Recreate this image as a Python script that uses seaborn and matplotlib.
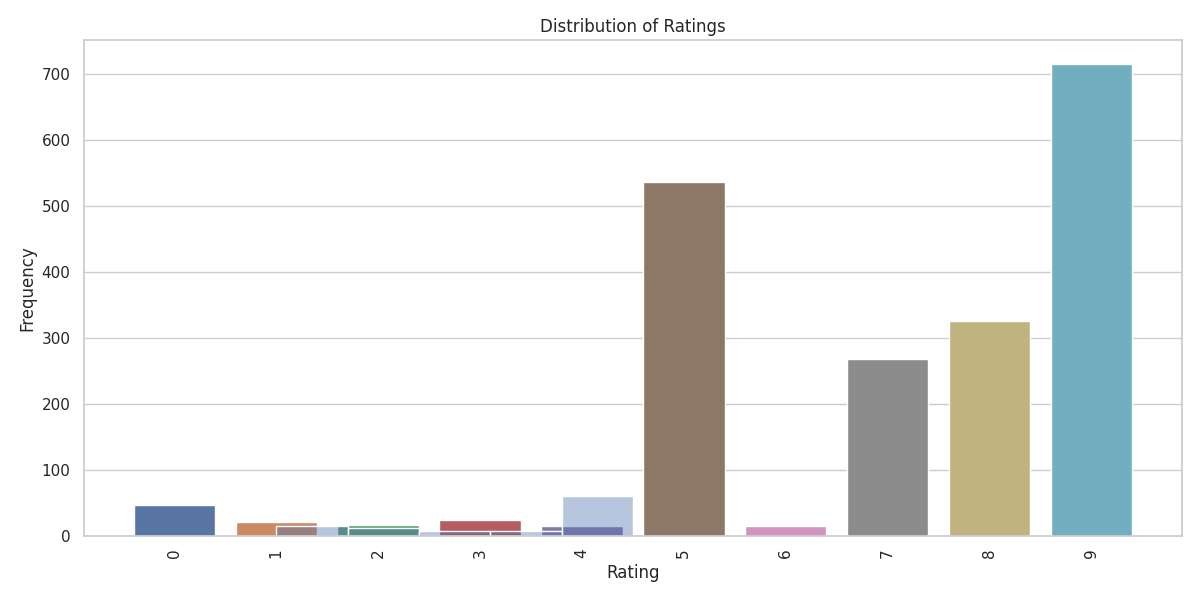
import numpy as np
import pandas as pd
import matplotlib
matplotlib.use("Agg")
import matplotlib.pyplot as plt
import seaborn as sns

# counts per rating
ratings = [0, 1, 2, 3, 4, 5, 6, 7, 8, 9]
rating_counts = [47, 21, 16, 24, 14, 536, 14, 268, 325, 716]

# overlaid histogram: bin edges and counts
hist_edges = [1.0, 1.7, 2.4, 3.1, 3.8, 4.5]
hist_counts = [15, 12, 7, 7, 60]

sns.set(style="whitegrid")

df = pd.DataFrame({"Rating": ratings, "Frequency": rating_counts})
hist_centers = [(a + b) / 2 for a, b in zip(hist_edges[:-1], hist_edges[1:])]

fig, ax = plt.subplots(figsize=(12, 6))
sns.barplot(
    data=df,
    x="Rating",
    y="Frequency",
    hue="Rating",
    palette="deep",
    legend=False,
    ax=ax
)
sns.histplot(
    x=hist_centers,
    weights=hist_counts,
    bins=hist_edges,
    color="#4c72b0",
    alpha=0.4,
    ax=ax
)
ax.set_title("Distribution of Ratings")
ax.set_xlabel("Rating")
ax.set_ylabel("Frequency")
plt.xticks(rotation=90)
plt.tight_layout()
plt.savefig("out.png", dpi=100)
plt.close()
